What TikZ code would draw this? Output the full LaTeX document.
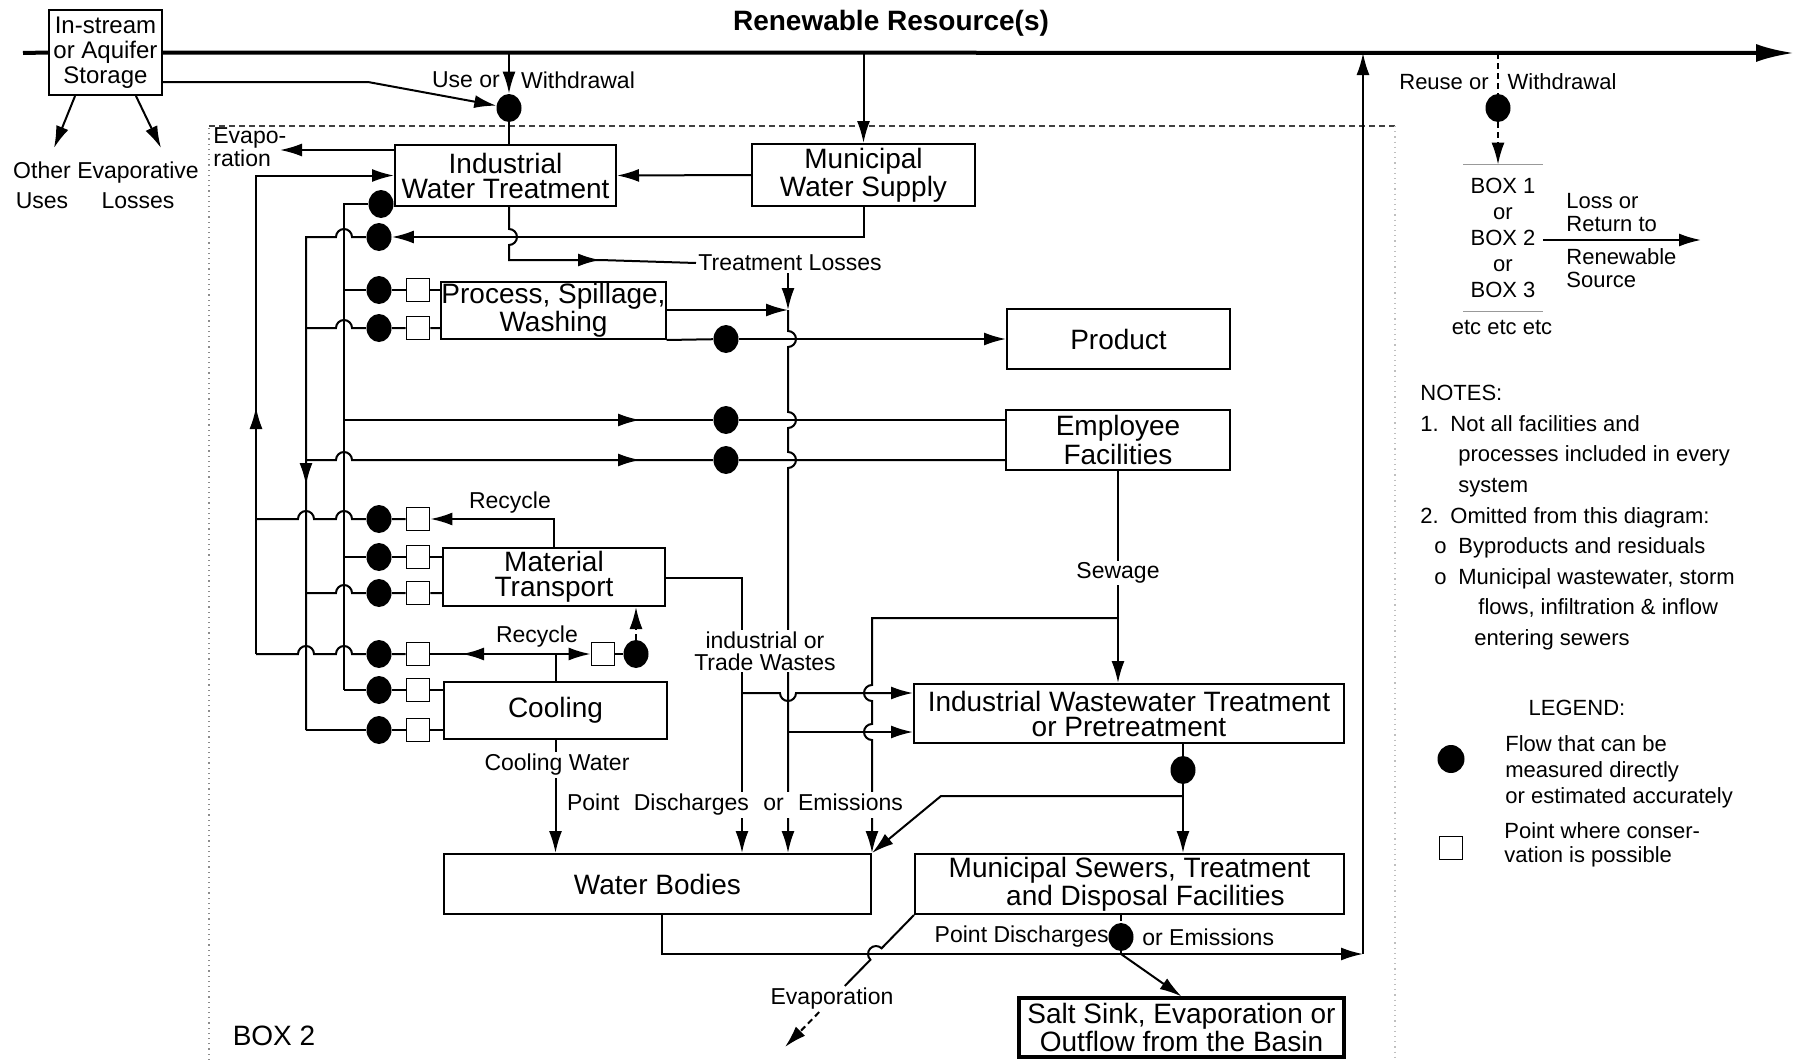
\documentclass[tikz,border=0pt]{standalone}
\usepackage{fontspec}
\setmainfont{Liberation Sans}
\usetikzlibrary{arrows.meta, positioning, shapes.geometric, calc}

\begin{document}
\begin{tikzpicture}[x=0.5pt, y=-0.5pt,
    box/.style={rectangle, draw, line width=1pt, align=center, inner sep=0pt, font=\fontsize{14}{12.5}\selectfont},
    lbl/.style={align=center, inner sep=1pt, font=\fontsize{11.5}{11}\selectfont},
    note/.style={align=left, inner sep=0pt, font=\fontsize{11}{15.3}\selectfont},
    meas/.style={ellipse, fill, inner sep=0pt, minimum width=12.5pt, minimum height=14pt},
    cons/.style={rectangle, draw, line width=0.9pt, fill=white, inner sep=0pt, minimum size=11.5pt},
    pipe/.style={line width=1pt},
    flow/.style={line width=1pt, -{Latex[length=11pt, width=6.5pt]}},
    hopup/.style={insert path={arc[start angle=180, end angle=0, radius=4pt]}},
    hopdown/.style={insert path={arc[start angle=180, end angle=360, radius=4pt]}},
    bumpR/.style={insert path={arc[start angle=90, end angle=-90, radius=4pt]}},
    bumpL/.style={insert path={arc[start angle=90, end angle=270, radius=4pt]}}]

    \path[use as bounding box, fill=white] (0,0) rectangle (1796,1060);

    \draw[black!75, densely dashed, line width=0.6pt] (209,126) -- (1395,126);
    \draw[black!45, dotted, line width=0.6pt] (209,1060) -- (209,126);
    \draw[black!25, dotted, line width=0.6pt] (1395,126) -- (1395,1060);

    \node[font=\bfseries\fontsize{14}{14}\selectfont] (rres) at (891,23) {Renewable Resource(s)};

    \node[box, minimum width=56.5pt, minimum height=42.5pt, font=\fontsize{12}{12.5}\selectfont] (store) at (105.5,52.5) {In-stream\\or Aquifer\\Storage};
    \node[box, minimum width=110.5pt, minimum height=30.5pt] (iwt) at (505.5,175.5) {Industrial\\Water Treatment};
    \node[box, minimum width=111.5pt, minimum height=31pt] (mws) at (863.5,175) {Municipal\\Water Supply};
    \node[box, minimum width=110.5pt, minimum height=28.5pt] (proc) at (553.5,310.5) {Process, Spillage,\\Washing};
    \node[box, minimum width=111.5pt, minimum height=30pt] (prod) at (1118.5,339) {Product};
    \node[box, minimum width=112pt, minimum height=30pt] (empl) at (1118,440) {Employee\\Facilities};
    \node[box, minimum width=111pt, minimum height=29pt] (matl) at (554,577) {Material\\Transport};
    \node[box, minimum width=111.5pt, minimum height=28.5pt] (cool) at (555.5,710.5) {Cooling};
    \node[box, minimum width=215pt, minimum height=29.5pt] (iwwt) at (1129,713.5) {Industrial Wastewater Treatment\\or Pretreatment};
    \node[box, minimum width=213.5pt, minimum height=30pt] (wbod) at (657.5,884) {Water Bodies};
    \node[box, minimum width=214.5pt, minimum height=30pt] (msew) at (1129.5,884) {Municipal Sewers, Treatment\\\hspace*{16pt}and Disposal Facilities};
    \node[box, minimum width=162.5pt, minimum height=29.5pt, line width=1.6pt] (salt) at (1181.5,1027.5) {Salt Sink, Evaporation or\\Outflow from the Basin};

    \node[meas] (dwd) at (509,108) {};
    \node[meas] (diwt) at (381,204) {};
    \node[meas] (dmun) at (379,237) {};
    \node[meas] (dp1) at (379,290) {};  \node[cons] (sp1) at (418,290) {};
    \node[meas] (dp2) at (379,328) {};  \node[cons] (sp2) at (418,328) {};
    \node[meas] (dm0) at (379,519) {};  \node[cons] (sm0) at (418,519) {};
    \node[meas] (dm1) at (379,557) {};  \node[cons] (sm1) at (418,557) {};
    \node[meas] (dm2) at (379,593) {};  \node[cons] (sm2) at (418,593) {};
    \node[meas] (dc0) at (379,654) {};  \node[cons] (sc0) at (418,654) {};
    \node[meas] (dc1) at (379,690) {};  \node[cons] (sc1) at (418,690) {};
    \node[meas] (dc2) at (379,730) {};  \node[cons] (sc2) at (418,730) {};
    \node[cons] (sc3) at (603,654) {};  \node[meas] (dc3) at (636,654) {};
    \node[meas] (dprd) at (726,339) {};
    \node[meas] (de1) at (726,420) {};
    \node[meas] (de2) at (726,460) {};
    \node[meas] (dww) at (1183,770) {};
    \node[meas] (dms) at (1121,937) {};

    \coordinate (src) at (23,53);
    \coordinate (sink) at (1794,53);
    \draw[line width=2pt] (src) -- (store.west);
    \draw[line width=2pt, -{Latex[length=19pt, width=9pt]}] (store.east) -- (sink);

    \coordinate (ouT) at (54,148);
    \coordinate (elT) at (161,148);
    \draw[flow] (store.235) -- (ouT);
    \draw[flow] (store.305) -- (elT);
    \node[lbl, font=\fontsize{11.5}{15}\selectfont] (othr) at (42,185) {Other\\Uses};
    \node[lbl, font=\fontsize{11.5}{15}\selectfont] (evls) at (138,185) {Evaporative\\Losses};

    \draw[flow] (dwd |- sink) -- (dwd);
    \draw[pipe] (dwd) -- (iwt.north -| dwd);
    \coordinate (kink) at (368,82);
    \draw[flow] (store.east |- kink) -- (kink) -- (dwd);
    \node[lbl] (usel) at (466,80) {Use or};
    \node[lbl] (wdl) at (578,80) {Withdrawal};

    \node[lbl, align=left, anchor=west, font=\fontsize{11.5}{10.5}\selectfont] (evtop) at (211,147) {Evapo-\\ration};
    \coordinate (evtip) at (280,150);
    \draw[flow] (iwt.west |- evtip) -- (evtip);

    \draw[flow] (mws.north |- sink) -- (mws.north);
    \draw[flow] (mws.west) -- (iwt.east);
    \draw[flow] (mws.south) |- (dmun);

    \coordinate (cL) at (256,175.5);
    \coordinate (cA) at (306,237);
    \coordinate (cB) at (344,204);
    \coordinate (aL) at (256,407);
    \coordinate (aA) at (306,485);
    \draw[pipe] (dmun) -- ($(cB |- dmun)+(8,0)$) arc[start angle=0, end angle=180, radius=4pt] -- (cA) -- (cA |- dc2);
    \draw[flow] (cA) -- (aA);
    \draw[pipe] (diwt) -- (cB) -- (cB |- dc1);
    \draw[flow] (cL |- dc0) -- (cL) -- (iwt.west);
    \draw[flow] (cL |- dc0) -- (aL);

    \node[lbl] (tloss) at (790,263) {Treatment Losses};
    \coordinate (tlbend) at (509,260);
    \coordinate (tlarr) at (600,260);
    \draw[pipe] (iwt.south -| dwd) -- ($(dwd |- dmun)+(0,-8)$) [bumpR] -- (tlbend) -- (tlarr) -- (tloss.west);
    \draw[flow] (tlbend) -- (tlarr);

    \coordinate (cT) at (788,310);
    \draw[flow] (tloss.south -| cT) -- (cT);
    \draw[flow] (proc.east |- cT) -- (cT);
    \draw[flow] (cT) -- ($(cT |- dprd)+(0,-8)$) [bumpR] -- ($(cT |- de1)+(0,-8)$) [bumpR] -- ($(cT |- de2)+(0,-8)$) [bumpR] -- (cT |- wbod.north);

    \draw[pipe] (proc.south east) -- (dprd);
    \draw[flow] (dprd) -- (prod.west |- dprd);

    \draw[pipe] (cB |- de1) -- (de1) -- (empl.west |- de1);
    \draw[flow] (cB |- de1) -- ($(de1)+(-86,0)$);
    \draw[pipe] (cA |- de2) -- ($(cB |- de2)+(-8,0)$) [hopup] -- (de2) -- (empl.west |- de2);
    \draw[flow] ($(cB |- de2)+(8,0)$) -- ($(de2)+(-86,0)$);

    \draw[pipe] (cB |- dp1) -- (dp1) -- (sp1) -- (proc.west |- sp1);
    \draw[pipe] (cA |- dp2) -- ($(cB |- dp2)+(-8,0)$) [hopup] -- (dp2) -- (sp2) -- (proc.west |- sp2);

    \draw[pipe] (cL |- dm0) -- ($(cA |- dm0)+(-8,0)$) [hopup] -- ($(cB |- dm0)+(-8,0)$) [hopup] -- (dm0) -- (sm0);
    \draw[flow] (matl.north) |- (sm0);
    \node[lbl] (rcy1) at (510,503) {Recycle};
    \draw[pipe] (cB |- dm1) -- (dm1) -- (sm1) -- (matl.west |- sm1);
    \draw[pipe] (cA |- dm2) -- ($(cB |- dm2)+(-8,0)$) [hopup] -- (dm2) -- (sm2) -- (matl.west |- sm2);

    \draw[pipe] (cL |- dc0) -- ($(cA |- dc0)+(-8,0)$) [hopup] -- ($(cB |- dc0)+(-8,0)$) [hopup] -- (dc0) -- (sc0);
    \coordinate (jc) at (cool.north |- dc0);
    \coordinate (carr) at (462,654);
    \draw[pipe] (cool.north) -- (jc) -- (sc0);
    \draw[flow] (jc) -- (carr);
    \draw[flow] (jc) -- (sc3);
    \draw[pipe] (sc3) -- (dc3);
    \draw[flow, densely dashed] (dc3) -- (dc3 |- matl.south);
    \node[lbl] (rcy2) at (537,637) {Recycle};
    \draw[pipe] (cB |- dc1) -- (dc1) -- (sc1) -- (cool.west |- sc1);
    \draw[pipe] (cA |- dc2) -- (dc2) -- (sc2) -- (cool.west |- sc2);

    \draw[flow] (cool.south) -- (cool.south |- wbod.north);

    \coordinate (cM) at (742,578);
    \coordinate (ji1) at (742,693);
    \coordinate (ji2) at (788,732);
    \draw[flow] (matl.east |- cM) -- (cM) -- (cM |- wbod.north);
    \draw[flow] (ji1) -- ($(cT |- ji1)+(-8,0)$) [hopdown] -- (iwwt.west |- ji1);
    \draw[flow] (ji2) -- (iwwt.west |- ji2);

    \coordinate (cS) at (872,618);
    \draw[flow] (empl.south) -- (empl.south |- iwwt.north);
    \draw[flow] (empl.south |- cS) -- (cS) -- ($(cS |- ji1)+(0,-8)$) [bumpL] -- ($(cS |- ji2)+(0,-8)$) [bumpL] -- (cS |- wbod.north);

    \coordinate (jw) at (1183,796);
    \coordinate (kw) at (941,796);
    \draw[pipe] (iwwt.south -| dww) -- (dww) -- (jw);
    \draw[flow] (jw) -- (kw) -- (wbod.north east);
    \draw[flow] (jw) -- (msew.north -| jw);

    \coordinate (kb) at (662,954);
    \coordinate (cR) at (1363,954);
    \draw[flow] (wbod.south -| kb) -- (kb) -- (cR);
    \draw[flow] (cR) -- (cR |- sink);

    \draw[pipe, densely dashed] (msew.south -| dms) -- (dms);
    \draw[pipe] (dms) -- (dms |- cR);
    \draw[flow] (dms |- cR) -- (salt.north);
    \node[lbl, anchor=east] (pdl) at (1111,937) {Point Discharges};
    \node[lbl, anchor=west] (pdr) at (1140,937) {or Emissions};

    \node[lbl] (evb) at (832,999) {Evaporation};
    \coordinate (evend) at (785,1047);
    \draw[pipe] (msew.south west) -- (881.6,948.3) arc[start angle=45.7, end angle=225.7, radius=4pt] -- (evb);
    \draw[flow, densely dashed] (evb) -- (evend);

    \node[lbl, fill=white] (cwl) at (557,765) {Cooling Water};
    \node[lbl, fill=white] (indl) at (765,651) {industrial or\\Trade Wastes};
    \node[lbl, fill=white] (sewl) at (1118,573) {Sewage};
    \node[lbl, fill=white] (pdm) at (735,805) {Point\hspace{4pt} Discharges\hspace{4pt} or\hspace{4pt} Emissions};

    \node[font=\fontsize{14}{14}\selectfont] (bx2) at (274,1036) {BOX 2};

    \node[meas] (drw) at (1498,108) {};
    \node[align=center, inner sep=0pt, minimum width=39.5pt, minimum height=73pt, font=\fontsize{11}{13}\selectfont] (bxs) at (1503,238) {BOX 1\\or\\BOX 2\\or\\BOX 3};
    \draw[black!40, line width=0.5pt] (bxs.north west) -- (bxs.north east) (bxs.south west) -- (bxs.south east);
    \draw[pipe, densely dashed] (drw |- sink) -- (drw);
    \draw[flow, densely dashed] (drw) -- (drw |- bxs.north);
    \coordinate (rtn) at (1701,240);
    \draw[flow] (bxs.east |- rtn) -- (rtn);
    \node[lbl, anchor=south west, align=left, font=\fontsize{11}{11.5}\selectfont] (lossl) at (1564,234) {Loss or\\Return to};
    \node[lbl, anchor=north west, align=left, font=\fontsize{11}{11.5}\selectfont] (renl) at (1564,246) {Renewable\\Source};
    \node[lbl, font=\fontsize{11}{11}\selectfont] (etcl) at (1502,327) {etc etc etc};
    \node[lbl, font=\fontsize{11}{11}\selectfont] (reul) at (1444,82) {Reuse or};
    \node[lbl, font=\fontsize{11}{11}\selectfont] (wdl2) at (1562,82) {Withdrawal};

    \node[note, anchor=north west] (notes) at (1420,385) {NOTES:\\
        \makebox[15pt][l]{1.}Not all facilities and\\
        \hspace*{19pt}processes included in every\\
        \hspace*{19pt}system\\
        \makebox[15pt][l]{2.}Omitted from this diagram:\\
        \hspace*{7pt}\makebox[12pt][l]{o}Byproducts and residuals\\
        \hspace*{7pt}\makebox[12pt][l]{o}Municipal wastewater, storm\\
        \hspace*{29pt}flows, infiltration \& inflow\\
        \hspace*{27pt}entering sewers};

    \node[note] (lgd) at (1577,708) {LEGEND:};
    \node[meas, minimum width=13.5pt, minimum height=14pt] (ldot) at (1451,759) {};
    \node[note, anchor=west, font=\fontsize{11}{13}\selectfont] (ldtx) at (1505,772) {Flow that can be\\measured directly\\or estimated accurately};
    \node[cons, line width=0.7pt] (lsq) at (1451,848) {};
    \node[note, anchor=west, font=\fontsize{11}{12}\selectfont] (lsqtx) at (1504,845) {Point where conser-\\vation is possible};
\end{tikzpicture}
\end{document}
